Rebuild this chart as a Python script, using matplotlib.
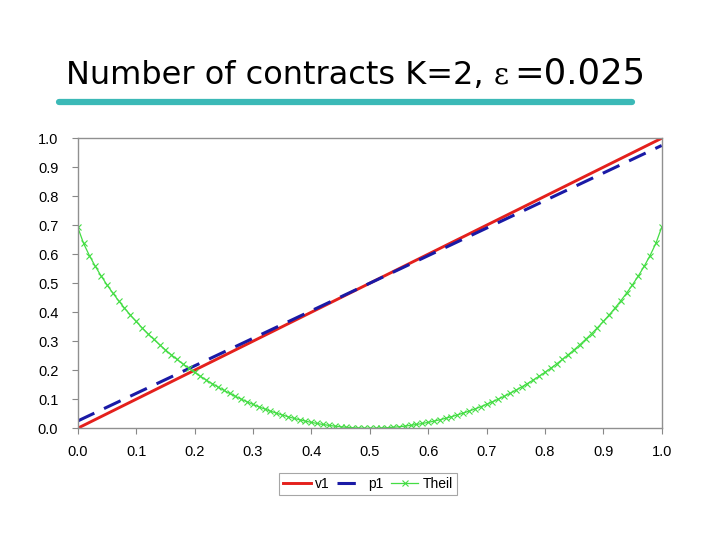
import matplotlib

matplotlib.use("Agg")
import matplotlib.pyplot as plt
from matplotlib.lines import Line2D

# data
v1_x = [0.0, 1.0]
v1_y = [0.0, 1.0]
p1_x = [0.0, 1.0]
p1_y = [0.025, 0.975]
theil_x = [i / 100 for i in range(101)]
theil_y = [
    0.6931, 0.6371, 0.5951, 0.5584, 0.5252, 0.4946, 0.4662, 0.4395, 0.4144, 0.3906,
    0.3681, 0.3466, 0.3262, 0.3068, 0.2882, 0.2704, 0.2535, 0.2373, 0.2218, 0.2069,
    0.1927, 0.1792, 0.1662, 0.1539, 0.1421, 0.1308, 0.1201, 0.1099, 0.1002, 0.0910,
    0.0823, 0.0740, 0.0663, 0.0590, 0.0521, 0.0457, 0.0397, 0.0342, 0.0291, 0.0244,
    0.0201, 0.0163, 0.0129, 0.0098, 0.0072, 0.0050, 0.0032, 0.0018, 0.0008, 0.0002,
    0.0000,
    0.0002, 0.0008, 0.0018, 0.0032, 0.0050, 0.0072, 0.0098, 0.0129, 0.0163, 0.0201,
    0.0244, 0.0291, 0.0342, 0.0397, 0.0457, 0.0521, 0.0590, 0.0663, 0.0740, 0.0823,
    0.0910, 0.1002, 0.1099, 0.1201, 0.1308, 0.1421, 0.1539, 0.1662, 0.1792, 0.1927,
    0.2069, 0.2218, 0.2373, 0.2535, 0.2704, 0.2882, 0.3068, 0.3262, 0.3466, 0.3681,
    0.3906, 0.4144, 0.4395, 0.4662, 0.4946, 0.5252, 0.5584, 0.5951, 0.6371, 0.6931,
]
ticks = [i / 10 for i in range(11)]

fig = plt.figure(figsize=(7.2, 5.4), dpi=100)

# slide title
base_y = 0.845
fig.text(0.092, base_y, "Number of contracts K=2,", fontsize=23,
         family="DejaVu Sans", ha="left", va="baseline")
fig.text(0.707, base_y, "\u03b5", fontsize=21, family="DejaVu Serif",
         ha="right", va="baseline")
fig.text(0.896, base_y, "=0.025", fontsize=25.5, family="DejaVu Sans",
         ha="right", va="baseline")
fig.add_artist(Line2D([0.082, 0.878], [0.811, 0.811], transform=fig.transFigure,
                      color="#3bb9b7", linewidth=4.5, solid_capstyle="round"))

ax = fig.add_axes([0.108, 0.207, 0.811, 0.537])
ax.plot(v1_x, v1_y, color="#e4201c", linewidth=2.1, label="v1")
ax.plot(p1_x, p1_y, color="#1a1aa6", linewidth=2.2, dashes=(6, 3.5), label="p1")
ax.plot(theil_x, theil_y, color="#44dd44", linewidth=0.9, marker="x",
        markersize=4, markeredgewidth=0.8, label="Theil")

ax.set_xlim(0, 1)
ax.set_ylim(0, 1)
ax.set_xticks(ticks)
ax.set_yticks(ticks)
ax.set_xticklabels(["%.1f" % t for t in ticks], family="Liberation Sans", fontsize=10.5)
ax.set_yticklabels(["%.1f" % t for t in ticks], family="Liberation Sans", fontsize=10.5)
ax.tick_params(direction="out", length=4, color="#888888")
ax.tick_params(axis="y", pad=10)
ax.tick_params(axis="x", pad=8)
for side in ["left", "bottom", "top", "right"]:
    ax.spines[side].set_color("#909090")
    ax.spines[side].set_linewidth(1.0)

leg = ax.legend(loc="center", bbox_to_anchor=(0.511, 0.104),
                bbox_transform=fig.transFigure, ncol=3, frameon=True,
                fancybox=False, edgecolor="#909090", handlelength=2.0,
                handletextpad=0.3, columnspacing=0.5, borderpad=0.3,
                prop={"family": "Liberation Sans", "size": 10})
leg.get_frame().set_linewidth(0.8)

fig.savefig("out.png", dpi=100)
plt.close("all")
